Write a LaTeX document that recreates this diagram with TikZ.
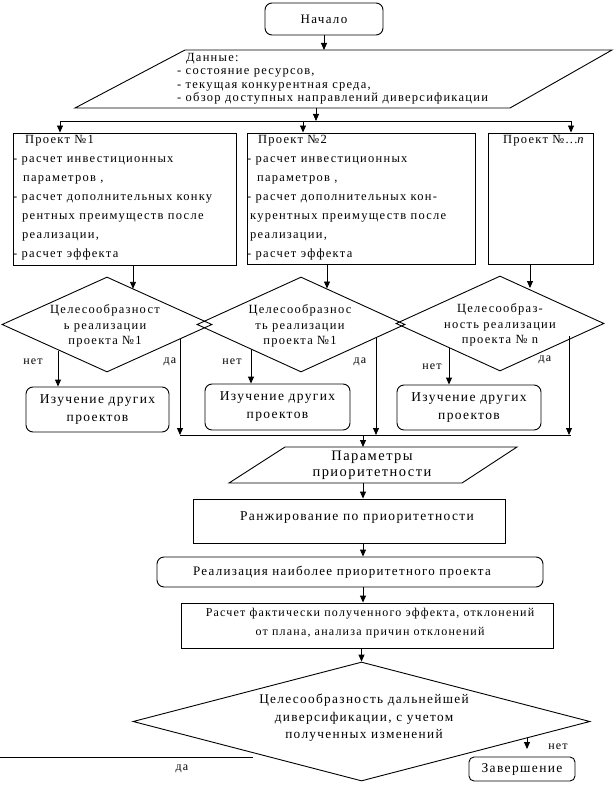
\documentclass[tikz,border=0pt]{standalone}
\usepackage{fontspec}
\setmainfont{Liberation Serif}[LetterSpace=10]
\usetikzlibrary{arrows.meta,shapes.geometric}
\newcommand\fsz[2]{\fontsize{#1}{#2}\selectfont}
\begin{document}
\begin{tikzpicture}[x=1pt,y=-1pt,
  ln/.style={line width=0.9pt},
  arr/.style={ln,-{Triangle[length=7pt,width=6pt]}},
  rbox/.style={draw,ln,rounded corners=7pt,inner sep=0pt},
  sbox/.style={draw,ln,inner sep=0pt},
  dia/.style={draw,ln,diamond,inner sep=0pt},
  txt/.style={inner sep=0pt,font=\fsz{12.5}{19}},
  lbl/.style={inner sep=0pt,font=\fsz{12}{14}},
]
\useasboundingbox (0,0) rectangle (615,794);
\fill[white] (0,0) rectangle (615,794);

% start
\node[rbox,minimum width=118pt,minimum height=32pt,font=\fsz{13}{14}] (start) at (324,19) {Начало};
% data parallelogram
\draw[ln] (185,50) -- (612,50) -- (510,108) -- (75,108) -- cycle;
\coordinate (dtop) at (324,50);
\coordinate (dbot) at (316,108);
\node[inner sep=0pt,anchor=north west,align=left,font=\fsz{12.5}{13.5}] (dtxt) at (177,53)
 {\hspace*{9pt}Данные:\\- состояние ресурсов,\\- текущая конкурентная среда,\\- обзор доступных направлений диверсификации};
\draw[arr] (start.south) -- (dtop);
\coordinate (hsplit) at (316,121);
\draw[arr] (dbot) -- (hsplit);
\coordinate (s1) at (60,121);
\coordinate (s2) at (303,121);
\coordinate (s3) at (571,121);
\draw[ln] (s1) -- (s3);

% project boxes
\node[sbox,minimum width=223pt,minimum height=132pt] (b1) at (124.5,199) {};
\node[sbox,minimum width=228pt,minimum height=131pt] (b2) at (361,198.5) {};
\node[sbox,minimum width=105pt,minimum height=131pt] (b3) at (540.5,198.5) {};
\draw[arr] (s1) -- (s1 |- b1.north);
\draw[arr] (s2) -- (s2 |- b2.north);
\draw[arr] (s3) -- (s3 |- b3.north);
\node[txt,anchor=north west,align=left] at (13,135.5)
 {\hspace*{12pt}Проект №1\\- расчет инвестиционных\\\hspace*{10pt}параметров ,\\- расчет дополнительных конку\\\hspace*{9pt}рентных преимуществ после\\\hspace*{9pt}реализации,\\- расчет эффекта};
\node[txt,anchor=north west,align=left] at (247,135.5)
 {\hspace*{11pt}Проект №2\\- расчет инвестиционных\\\hspace*{10pt}параметров ,\\- расчет дополнительных кон-\\\hspace*{3pt}курентных преимуществ после\\\hspace*{3pt}реализации,\\- расчет эффекта};
\node[txt,anchor=north west,align=left] at (503,135.5) {Проект №...\textit{n}};

% diamonds
\node[dia,minimum width=210pt,minimum height=95pt] (d1) at (107,324.5) {};
\node[dia,minimum width=208pt,minimum height=95pt] (d2) at (301,324.5) {};
\node[dia,minimum width=208pt,minimum height=95pt] (d3) at (500,323.5) {};
\node[align=center,inner sep=0pt,font=\fsz{12.5}{15.5}] at (105,326) {Целесообразност\\ь реализации\\проекта №1};
\node[align=center,inner sep=0pt,font=\fsz{12.5}{15.5}] at (300,326) {Целесообразнос\\ть реализации\\проекта №1};
\node[align=center,inner sep=0pt,font=\fsz{12.5}{15.5}] at (500,325) {Целесообраз-\\ность реализации\\проекта № n};
\coordinate (e1) at (133,265);
\coordinate (e2) at (327,264);
\coordinate (e3) at (530,264);
\coordinate (f1) at (133,288.8);
\coordinate (f2) at (327,288.5);
\coordinate (f3) at (530,288);
\draw[arr] (e1) -- (f1);
\draw[arr] (e2) -- (f2);
\draw[arr] (e3) -- (f3);

% study boxes
\node[rbox,minimum width=143pt,minimum height=45pt,align=center,font=\fsz{13.5}{18}] (sb1) at (97.5,409.5) {Изучение других\\проектов};
\node[rbox,minimum width=145pt,minimum height=46pt,align=center,font=\fsz{13.5}{18}] (sb2) at (277.5,407) {Изучение других\\проектов};
\node[rbox,minimum width=144pt,minimum height=45pt,align=center,font=\fsz{13.5}{18}] (sb3) at (469,407.5) {Изучение других\\проектов};
\coordinate (n1) at (58,350.5);
\coordinate (n2) at (251,349);
\coordinate (n3) at (449,348);
\draw[arr] (n1) -- (n1 |- sb1.north);
\draw[arr] (n2) -- (n2 |- sb2.north);
\draw[arr] (n3) -- (n3 |- sb3.north);
\node[lbl] at (33,362) {нет};
\node[lbl] at (232,362) {нет};
\node[lbl] at (432,367) {нет};
\node[lbl] at (170,362) {да};
\node[lbl] at (360,362) {да};
\node[lbl] at (545,360) {да};
\coordinate (y1s) at (180,338.5);
\coordinate (y2s) at (376,337.5);
\coordinate (y3s) at (569,336);
\coordinate (m1) at (180,435);
\coordinate (m2) at (376,435);
\coordinate (m3) at (569,435);
\draw[arr] (y1s) -- (m1);
\draw[arr] (y2s) -- (m2);
\draw[arr] (y3s) -- (m3);
\coordinate (mend) at (571,435);
\draw[ln] (m1) -- (mend);
\coordinate (m0) at (363,435);

% parameters
\draw[ln] (285,447) -- (517,447) -- (462,483) -- (229,483) -- cycle;
\coordinate (ptop) at (363,447);
\coordinate (pbot) at (363,483);
\node[align=center,inner sep=0pt,font=\fsz{14.5}{16}] at (372,465) {Параметры\\приоритетности};
\draw[arr] (m0) -- (ptop);

% rank
\node[sbox,minimum width=312pt,minimum height=44pt] (rank) at (349,521) {};
\node[inner sep=0pt,font=\fsz{13.5}{14}] at (357,518) {Ранжирование по приоритетности};
\draw[arr] (pbot) -- (pbot |- rank.north);
% realization
\node[rbox,minimum width=386pt,minimum height=30pt] (real) at (350,572) {};
\node[inner sep=0pt,font=\fsz{13}{14}] at (342,572) {Реализация наиболее приоритетного проекта};
\coordinate (r0) at (363,543);
\draw[arr] (r0) -- (r0 |- real.north);
% calc
\node[sbox,minimum width=372pt,minimum height=45pt] (calc) at (367,625.5) {};
\node[align=center,inner sep=0pt,font=\fsz{12}{19}] at (370,623.5) {Расчет фактически полученного эффекта, отклонений\\от плана, анализа причин отклонений};
\coordinate (c0) at (363,587);
\draw[arr] (c0) -- (c0 |- calc.north);
% final diamond
\node[dia,minimum width=457pt,minimum height=119pt] (fd) at (361.5,721.5) {};
\node[align=center,inner sep=0pt,font=\fsz{13.3}{17.5}] at (364,718) {Целесообразность дальнейшей\\диверсификации, с учетом\\полученных изменений};
\coordinate (g0) at (361.5,648);
\draw[arr] (g0) -- (fd.north);
% yes line
\coordinate (y0) at (0,757);
\coordinate (y1) at (253,757);
\draw[ln] (y0) -- (y1);
\node[lbl] at (182,769) {да};
% no
\node[rbox,rounded corners=5pt,minimum width=106pt,minimum height=24pt,font=\fsz{13.5}{14}] (fin) at (522,769) {Завершение};
\coordinate (k0) at (527,737.5);
\coordinate (k1) at (527,749);
\draw[arr] (k0) -- (k1);
\node[lbl] at (558,747) {нет};
\end{tikzpicture}
\end{document}
